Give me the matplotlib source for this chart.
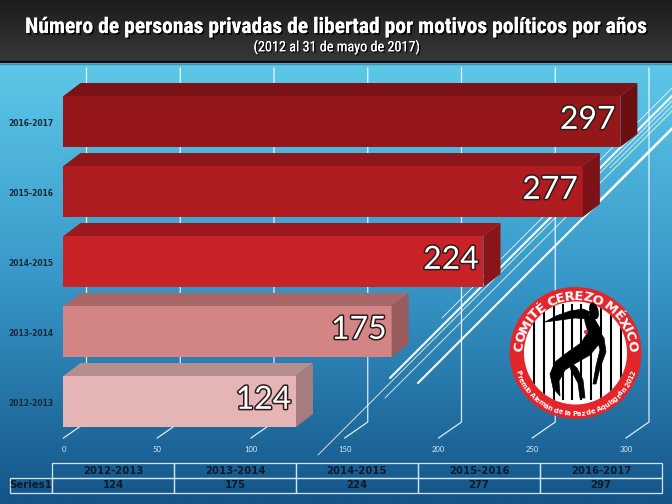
import os
import numpy as np
import matplotlib
matplotlib.use('Agg')
import matplotlib.pyplot as plt
from matplotlib.patches import Polygon, Circle, Ellipse
from matplotlib.table import Table
import matplotlib.patheffects as pe
from matplotlib import font_manager
from matplotlib.font_manager import FontProperties
from matplotlib.textpath import TextToPath

# ---------------- data ----------------
categories = ['2012-2013', '2013-2014', '2014-2015', '2015-2016', '2016-2017']
values = [124, 175, 224, 277, 297]
series_name = 'Series1'
x_ticks = [0, 50, 100, 150, 200, 250, 300]
title = 'Número de personas privadas de libertad por motivos políticos por años'
subtitle = '(2012 al 31 de mayo de 2017)'
logo_top = 'COMITÉ CEREZO MÉXICO'
logo_bottom = 'Premio Alemán de la Paz de Aquisgrán 2012'

# ---------------- styles ----------------
front_colors = ['#e5b5b6', '#d38485', '#c92327', '#ae1c20', '#95171a']
top_colors = ['#b78e8f', '#a96768', '#9c1a1d', '#8c1619', '#7b1215']
side_colors = ['#a67d7e', '#9a5b5d', '#8a1518', '#7b1215', '#6c0f11']


def pick(cands):
    for c in cands:
        try:
            font_manager.findfont(FontProperties(family=c), fallback_to_default=False)
            return c
        except Exception:
            pass
    return 'DejaVu Sans'


NARROW = pick(['Liberation Sans Narrow', 'Roboto Condensed', 'DejaVu Sans'])
HUMAN = pick(['Lato', 'Open Sans', 'DejaVu Sans'])
BOLD_PROP = dict(family='DejaVu Sans', weight='bold')

W, H = 672, 504
HEADER = 62
fig = plt.figure(figsize=(W / 100, H / 100), dpi=100)

# layout constants (pixels)
X0_PX, PX_UNIT = 63.5, 1.875
ROW0_PX, ROW_SP = 401.5, 70.0


def px2x(p):
    return (p - X0_PX) / PX_UNIT


BH = 51 / ROW_SP
DX, DY = 17 / PX_UNIT, 13 / ROW_SP
WX, WY = 23 / PX_UNIT, 16 / ROW_SP
Y_FLOOR = (ROW0_PX - 438) / ROW_SP
Y_TOP = (ROW0_PX - 68) / ROW_SP
Y_TICK = (ROW0_PX - 449) / ROW_SP

# ---------------- background ----------------
bg = fig.add_axes([0, 0, 1, 1], zorder=0)
bg.set_xlim(0, W)
bg.set_ylim(H, 0)
bg.axis('off')

rows = np.linspace(0, 1, 300)
stops_t = [0.0, 0.49, 1.0]
stops_c = np.array([[93, 200, 232], [56, 152, 201], [20, 84, 136]]) / 255.0
grad = np.stack([np.interp(rows, stops_t, stops_c[:, k]) for k in range(3)], axis=1)
grad = np.repeat(grad[:, None, :], 2, axis=1)
bg.imshow(grad, extent=(0, W, H, HEADER), aspect='auto', interpolation='bilinear', zorder=0)

hrows = np.linspace(0, 1, 60)
hc = np.array([[28, 28, 28], [56, 56, 56]]) / 255.0
hgrad = np.stack([np.interp(hrows, [0, 1], hc[:, k]) for k in range(3)], axis=1)
hgrad = np.repeat(hgrad[:, None, :], 2, axis=1)
bg.imshow(hgrad, extent=(0, W, HEADER, 0), aspect='auto', interpolation='bilinear', zorder=0)
bg.plot([0, W], [HEADER, HEADER], color='#0c0c0c', lw=1.6, zorder=1)
bg.plot([0, W], [HEADER + 1.5, HEADER + 1.5], color='#2a6f90', lw=1.0, alpha=0.6, zorder=1)

# decorative diagonal lines
deco = [((390, 378), (672, 96), 1.6, 0.9),
        ((418, 383), (672, 129), 1.6, 0.9),
        ((318, 455), (672, 101), 0.7, 0.8),
        ((385, 398), (672, 111), 0.7, 0.8),
        ((442, 318), (672, 88), 0.7, 0.8),
        ((600, 200), (672, 128), 1.3, 0.8),
        ((610, 168), (672, 106), 0.7, 0.7)]
for (x1, y1), (x2, y2), lw, a in deco:
    bg.plot([x1, x2], [y1, y2], color='white', lw=lw, alpha=a, solid_capstyle='round', zorder=2)

# ---------------- main chart axes ----------------
ax = fig.add_axes([0, 0, 1, 1], zorder=1)
ax.patch.set_alpha(0)
ax.set_xlim(px2x(0), px2x(W))
ax.set_ylim((ROW0_PX - H) / ROW_SP, ROW0_PX / ROW_SP)
ax.axis('off')

for t in x_ticks:
    ax.plot([t, t + WX, t + WX], [Y_FLOOR, Y_FLOOR + WY, Y_TOP],
            color='white', lw=0.9, alpha=0.85, zorder=1)
    ax.text(t, Y_TICK, str(t), ha='center', va='center', fontsize=5.5,
            color='#d3ebf6', family=HUMAN, zorder=2)

ypos = np.arange(len(categories))
ax.barh(ypos, values, height=BH, color=front_colors, zorder=3, linewidth=0)
for i, (y, v) in enumerate(zip(ypos, values)):
    top = y + BH / 2
    bot = y - BH / 2
    ax.add_patch(Polygon([(0, top), (v, top), (v + DX, top + DY), (DX, top + DY)],
                         closed=True, facecolor=top_colors[i], edgecolor='none', zorder=3))
    ax.add_patch(Polygon([(v, bot), (v, top), (v + DX, top + DY), (v + DX, bot + DY)],
                         closed=True, facecolor=side_colors[i], edgecolor='none', zorder=3))
    ax.annotate(str(v), (v, y), xytext=(-3.5, 1.2), textcoords='offset points',
                ha='right', va='center', fontsize=23, color='white', family=HUMAN,
                path_effects=[pe.withStroke(linewidth=2.2, foreground='#2e1c1c')], zorder=5)
    ax.annotate(categories[i], (0, y), xytext=(-7.2, -1.8), textcoords='offset points',
                ha='right', va='center', fontsize=5.5, color='#1b2838', zorder=5, **BOLD_PROP)

# ---------------- overlay: logo, title, table ----------------
ov = fig.add_axes([0, 0, 1, 1], zorder=2)
ov.patch.set_alpha(0)
ov.set_xlim(0, W)
ov.set_ylim(H, 0)
ov.axis('off')

cx, cy, R, RIN = 575.5, 353.0, 66.0, 51.5
ov.add_patch(Circle((cx, cy), R, facecolor='#e2262b', edgecolor='none', zorder=3))
inner = Circle((cx, cy), RIN, facecolor='white', edgecolor='none', zorder=4)
ov.add_patch(inner)
for bx in [534, 544, 554, 563, 572, 581, 591, 601, 611, 621]:
    ln, = ov.plot([bx, bx], [cy - 48, cy + 46], color='black', lw=1.5, zorder=5)
    ln.set_clip_path(inner)

# stylised figure behind the bars
silhouette = [
    [(545, 322), (556, 316), (570, 311), (583, 309), (590, 312), (588, 319), (575, 318), (560, 320)],
    [(584, 313), (594, 318), (601, 330), (599, 344), (590, 355), (576, 363), (565, 370), (559, 381),
     (560, 396), (553, 388), (550, 374), (555, 362), (568, 352), (581, 343), (588, 332), (585, 322)],
    [(596, 327), (604, 338), (606, 352), (600, 368), (596, 384), (593, 384), (596, 366), (600, 350), (597, 338)],
    [(568, 360), (577, 368), (583, 380), (585, 398), (580, 398), (578, 383), (571, 370)],
]
for pts in silhouette:
    p = Polygon(pts, closed=True, facecolor='black', edgecolor='black', lw=0.5, zorder=6)
    ov.add_patch(p)
    p.set_clip_path(inner)
ov.add_patch(Ellipse((594, 311), 9, 17, angle=-15, facecolor='black', zorder=6))
ov.add_patch(Circle((586, 332), 2.0, facecolor='#e2262b', zorder=7))

t2p = TextToPath()


def arc_text(s, r, a0, a1, size, outward):
    prop = FontProperties(family='DejaVu Sans', weight='bold', size=size)
    ws = []
    for ch in s:
        if ch == ' ':
            ws.append(0.32 * size)
        else:
            ws.append(t2p.get_text_width_height_descent(ch, prop, ismath=False)[0])
    ws = np.array(ws)
    centers = np.cumsum(ws) - ws / 2
    frac = centers / ws.sum()
    for ch, f in zip(s, frac):
        if ch == ' ':
            continue
        a = np.deg2rad(a0 + (a1 - a0) * f)
        x = cx + r * np.cos(a)
        y = cy - r * np.sin(a)
        rot = np.rad2deg(a) - 90 if outward else np.rad2deg(a) + 90
        ov.text(x, y, ch, fontproperties=prop, color='white', rotation=rot,
                rotation_mode='anchor', ha='center', va='baseline', zorder=8)


arc_text(logo_top, 53.0, 178, 2, 9.6, True)
arc_text(logo_bottom, 63.0, 197, 343, 4.9, False)

ttl = ov.text(W / 2, 27, title, ha='center', va='center', color='white', fontsize=15,
              fontweight='bold', family=NARROW, zorder=9,
              path_effects=[pe.withSimplePatchShadow(offset=(1.2, -1.2), shadow_rgbFace='black', alpha=0.9),
                            pe.Normal()])
sub = ov.text(W / 2, 47, subtitle, ha='center', va='center', color='white', fontsize=9.5,
              family=NARROW, zorder=9,
              path_effects=[pe.withSimplePatchShadow(offset=(1, -1), shadow_rgbFace='black', alpha=0.9),
                            pe.Normal()])

# fit title widths to the reference
fig.canvas.draw()
rend = fig.canvas.get_renderer()
for txt, target in [(ttl, 622), (sub, 166)]:
    w = txt.get_window_extent(rend).width
    txt.set_fontsize(txt.get_fontsize() * target / w)

# table
x_left, x_right, y_top, y_bot = 10, 662, 463, 493
tb = Table(ov, bbox=[x_left / W, (H - y_bot) / H, (x_right - x_left) / W, (y_bot - y_top) / H])
lab_w, col_w, row_h = 42, 122, 15
edge = '#cfe6f2'
for j, cat in enumerate(categories):
    tb.add_cell(0, j + 1, col_w, row_h, text=cat, loc='center', facecolor='none', edgecolor=edge)
    tb.add_cell(1, j + 1, col_w, row_h, text=str(values[j]), loc='center', facecolor='none', edgecolor=edge)
tb.add_cell(1, 0, lab_w, row_h, text=series_name, loc='center', facecolor='none', edgecolor=edge)
tb.auto_set_font_size(False)
tb.set_fontsize(7.3)
for (r_, c_), cell in tb.get_celld().items():
    cell.set_linewidth(0.9)
    cell.PAD = 0.02
    txt = cell.get_text()
    txt.set_fontproperties(FontProperties(size=7.3, **BOLD_PROP))
    txt.set_color('#0b1a2a')
ov.add_table(tb)

fig.savefig('out.png', dpi=100)
